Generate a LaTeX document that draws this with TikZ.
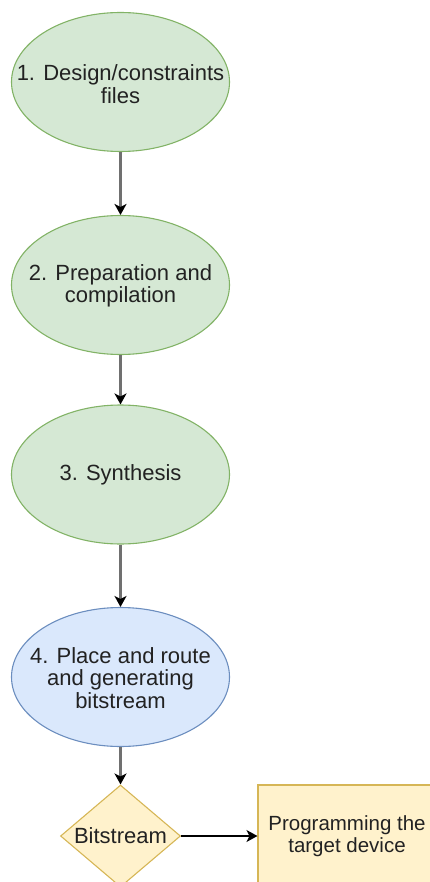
\documentclass[tikz,border=0pt]{standalone}
\usepackage{fontspec}
\setmainfont{Liberation Sans}
\usetikzlibrary{shapes.geometric,arrows.meta}

\definecolor{greenfill}{HTML}{D5E8D4}
\definecolor{greenline}{HTML}{82B366}
\definecolor{bluefill}{HTML}{DAE8FC}
\definecolor{blueline}{HTML}{6C8EBF}
\definecolor{yellowfill}{HTML}{FFF2CC}
\definecolor{yellowline}{HTML}{D6B656}
\definecolor{flowgray}{HTML}{707070}
\definecolor{textgray}{HTML}{222222}

\begin{document}
\begin{tikzpicture}[x=1pt,y=-1pt,
  caption/.style={font=\fontsize{22}{22.5}\selectfont, text=textgray, align=center, inner sep=0pt},
  smallcaption/.style={caption, font=\fontsize{20.5}{21.5}\selectfont},
  stage/.style={ellipse, draw=greenline, fill=greenfill, line width=1.1pt,
    minimum width=218pt, minimum height=139pt, inner sep=0pt},
  finalstage/.style={stage, draw=blueline, fill=bluefill},
  decision/.style={diamond, draw=yellowline, fill=yellowfill, line width=1.1pt,
    minimum width=120pt, minimum height=102pt, inner sep=0pt, aspect=1.18},
  outbox/.style={rectangle, draw=yellowline, fill=yellowfill, line width=1.1pt,
    minimum width=178pt, minimum height=102pt, inner sep=0pt},
  flow/.style={draw=flowgray, line width=2.4pt,
    -{Stealth[color=black, length=11pt, width=12pt, inset=3pt]}},
  handoff/.style={draw=black, line width=1.3pt,
    -{Stealth[color=black, length=11pt, width=12pt, inset=3pt]}}
]
\useasboundingbox (0,0) rectangle (430,882);
\clip (0,0) rectangle (430,882);

% process stages
\node[stage] (s1) at (120.5,82) {};
\node[caption] (t1) at (120.5,84) {1. Design/constraints\\files};
\node[stage] (s2) at (120.5,285) {};
\node[caption] (t2) at (120.5,286) {2. Preparation and\\compilation};
\node[stage] (s3) at (120.5,474.5) {};
\node[caption] (t3) at (120.5,475) {3. Synthesis};
\node[finalstage] (s4) at (120.5,677) {};
\node[caption] (t4) at (120.5,678) {4. Place and route\\and generating\\bitstream};

% output and target
\node[decision] (bit) at (120.5,836) {};
\node[caption] (tb) at (120.5,836) {Bitstream};
\node[outbox] (prog) at (347,836) {};
\node[smallcaption] (tp) at (347,836) {Programming the\\target device};

% connectors
\draw[flow] (s1.south) -- (s2.north);
\draw[flow] (s2.south) -- (s3.north);
\draw[flow] (s3.south) -- (s4.north);
\draw[flow] (s4.south) -- (bit.north);
\draw[handoff] (bit.east) -- (prog.west);
\end{tikzpicture}
\end{document}
